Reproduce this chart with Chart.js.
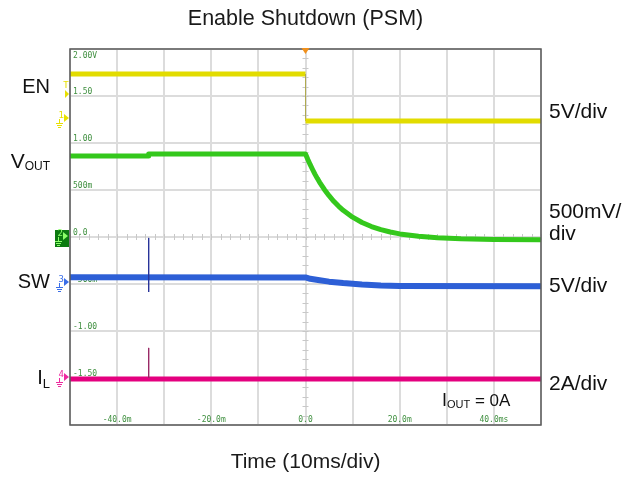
<!DOCTYPE html>
<html>
<head>
<meta charset="utf-8">
<script src="https://cdn.jsdelivr.net/npm/chart.js@4/dist/chart.umd.min.js"></script>
<style>
html, body { margin: 0; padding: 0; background: #fff; }
#wrap { width: 625px; height: 477px; }
</style>
</head>
<body>
<div id="wrap"><canvas id="scope" width="625" height="477"></canvas></div>
<script>
// values: time in ms, level in grid units (0.5 per division)
var enTime = [-50, 0, 0, 50];
var enValues = [1.734, 1.734, 1.234, 1.234];

var voutTime = [-50, -33.3, -33.3, 0, 0.5, 1, 1.5, 2, 2.5, 3, 4, 5, 6, 7, 8, 10, 12, 14, 16, 18, 20, 24, 28, 33, 40, 50];
var voutValues = [0.862, 0.862, 0.883, 0.883, 0.824, 0.769, 0.718, 0.669, 0.624, 0.582, 0.506, 0.439, 0.380, 0.329, 0.284, 0.211, 0.154, 0.111, 0.078, 0.053, 0.033, 0.007, -0.008, -0.019, -0.026, -0.029];

var swTime = [-50, 0, 1, 3, 5, 8, 12, 16, 20, 50];
var swValues = [-0.428, -0.43, -0.445, -0.46, -0.475, -0.49, -0.505, -0.515, -0.52, -0.525];

var ilTime = [-50, 50];
var ilValues = [-1.51, -1.51];

// the two glitches at about -33ms
var spikeTime = [-33.3, -33.3];
var swSpikeValues = [-0.01, -0.585];
var ilSpikeValues = [-1.18, -1.5];

// graticule labels printed by the scope
var yTickValues = [2, 1.5, 1, 0.5, 0, -0.5, -1, -1.5];
var yTickLabels = ['2.00V', '1.50', '1.00', '500m', '0.0', '-500m', '-1.00', '-1.50'];
var xTickValues = [-40, -20, 0, 20, 40];
var xTickLabels = ['-40.0m', '-20.0m', '0.0', '20.0m', '40.0ms'];

var FONT = '"Liberation Sans", Arial, sans-serif';
var MONO = '"DejaVu Sans Mono", monospace';

function toPoints(xs, ys) {
	var pts = [];
	for (var i = 0; i < xs.length; i++) {
		pts.push({x: xs[i], y: ys[i]});
	}
	return pts;
}

// text with a subscript part, returns x after the text
function drawSub(ctx, main, sub, x, y, align, size, subSize, drop) {
	ctx.font = size + 'px ' + FONT;
	var wMain = ctx.measureText(main).width;
	ctx.font = subSize + 'px ' + FONT;
	var wSub = ctx.measureText(sub).width;
	var start = align === 'right' ? x - wMain - wSub : x;
	ctx.textAlign = 'left';
	ctx.textBaseline = 'alphabetic';
	ctx.font = size + 'px ' + FONT;
	ctx.fillText(main, start, y);
	ctx.font = subSize + 'px ' + FONT;
	ctx.fillText(sub, start + wMain, y + drop);
	return start + wMain + wSub;
}

function chanMarker(ctx, label, color, x, y) {
	ctx.fillStyle = color;
	ctx.strokeStyle = color;
	ctx.lineWidth = 1;
	ctx.font = '9px ' + MONO;
	ctx.textAlign = 'right';
	ctx.textBaseline = 'middle';
	ctx.fillText(label, x - 5, y - 2);
	ctx.beginPath();
	ctx.moveTo(x - 5, y - 4);
	ctx.lineTo(x, y);
	ctx.lineTo(x - 5, y + 4);
	ctx.closePath();
	ctx.fill();
	// ground sign
	ctx.beginPath();
	ctx.moveTo(x - 9.5, y + 1); ctx.lineTo(x - 9.5, y + 5);
	ctx.moveTo(x - 13, y + 5.5); ctx.lineTo(x - 6, y + 5.5);
	ctx.moveTo(x - 12, y + 7.5); ctx.lineTo(x - 7, y + 7.5);
	ctx.moveTo(x - 11, y + 9.5); ctx.lineTo(x - 8, y + 9.5);
	ctx.stroke();
}

var scopeDecor = {
	id: 'scopeDecor',
	beforeDatasetsDraw: function(chart) {
		var ctx = chart.ctx, xs = chart.scales.x, ys = chart.scales.y, area = chart.chartArea;
		var x0 = xs.getPixelForValue(0), y0 = ys.getPixelForValue(0);
		ctx.save();
		// minor ticks along the centre lines
		ctx.strokeStyle = '#c8c8c8';
		ctx.lineWidth = 1;
		ctx.beginPath();
		for (var t = -50; t <= 50; t += 2) {
			var px = Math.round(xs.getPixelForValue(t)) + 0.5;
			ctx.moveTo(px, y0 - 3); ctx.lineTo(px, y0 + 3);
		}
		for (var k = -20; k <= 20; k++) {
			var py = Math.round(ys.getPixelForValue(k / 10)) + 0.5;
			ctx.moveTo(x0 - 3, py); ctx.lineTo(x0 + 3, py);
		}
		ctx.stroke();

		// graticule labels
		ctx.fillStyle = '#3f8f3f';
		ctx.font = '8px ' + MONO;
		ctx.textAlign = 'left';
		for (var i = 0; i < yTickValues.length; i++) {
			var ly = ys.getPixelForValue(yTickValues[i]);
			if (i === 0) {
				ctx.textBaseline = 'top';
				ctx.fillText(yTickLabels[i], area.left + 3, ly + 3);
			} else {
				ctx.textBaseline = 'alphabetic';
				ctx.fillText(yTickLabels[i], area.left + 3, ly - 2);
			}
		}
		ctx.textAlign = 'center';
		ctx.textBaseline = 'alphabetic';
		for (var j = 0; j < xTickValues.length; j++) {
			ctx.fillText(xTickLabels[j], xs.getPixelForValue(xTickValues[j]), area.bottom - 3);
		}
		ctx.restore();
	},
	afterDraw: function(chart) {
		var ctx = chart.ctx, xs = chart.scales.x, ys = chart.scales.y, area = chart.chartArea;
		ctx.save();
		// frame
		ctx.strokeStyle = '#5a5a5a';
		ctx.lineWidth = 1.5;
		ctx.strokeRect(area.left, area.top, area.right - area.left, area.bottom - area.top);

		// trigger position marker
		var tx = xs.getPixelForValue(0);
		ctx.fillStyle = '#f0901c';
		ctx.beginPath();
		ctx.moveTo(tx - 4, area.top - 1);
		ctx.lineTo(tx + 4, area.top - 1);
		ctx.lineTo(tx, area.top + 5);
		ctx.closePath();
		ctx.fill();

		// channel markers on the left edge
		ctx.fillStyle = '#e8e000';
		ctx.font = '9px ' + MONO;
		ctx.textAlign = 'center';
		ctx.textBaseline = 'middle';
		ctx.fillText('T', 66, 86);
		ctx.beginPath();
		ctx.moveTo(65, 90); ctx.lineTo(69, 94); ctx.lineTo(65, 98); ctx.closePath(); ctx.fill();
		chanMarker(ctx, '1', '#e8e000', 69, 118);
		ctx.fillStyle = '#0c7a10';
		ctx.fillRect(55, 230, 14, 17);
		chanMarker(ctx, '2', '#8cff6a', 68, 236);
		chanMarker(ctx, '3', '#3a6ee8', 69, 282);
		chanMarker(ctx, '4', '#ee2aa0', 69, 377);

		// trace names
		ctx.fillStyle = '#111';
		ctx.font = '20px ' + FONT;
		ctx.textAlign = 'right';
		ctx.textBaseline = 'alphabetic';
		ctx.fillText('EN', 50, 93);
		ctx.fillText('SW', 50, 288);
		drawSub(ctx, 'V', 'OUT', 50, 168, 'right', 21, 12, 2);
		drawSub(ctx, 'I', 'L', 50, 384, 'right', 20, 13, 4);

		// scale per trace
		ctx.font = '21px ' + FONT;
		ctx.textAlign = 'left';
		ctx.fillText('5V/div', 549, 118);
		ctx.fillText('500mV/', 549, 218);
		ctx.fillText('div', 549, 240);
		ctx.fillText('5V/div', 549, 292);
		ctx.fillText('2A/div', 549, 390);

		// load condition
		var after = drawSub(ctx, 'I', 'OUT', 442, 406, 'left', 18, 11, 2);
		ctx.font = '17px ' + FONT;
		ctx.fillText(' = 0A', after, 406);
		ctx.restore();
	}
};

var ctx = document.getElementById('scope');

var myScope = new Chart(ctx, {
	type: 'line',
	data: {
		datasets: [{
			label: 'SW glitch',
			data: toPoints(spikeTime, swSpikeValues),
			borderColor: '#28349a',
			borderWidth: 1
		}, {
			label: 'IL glitch',
			data: toPoints(spikeTime, ilSpikeValues),
			borderColor: '#9a2a66',
			borderWidth: 1
		}, {
			label: 'EN',
			data: toPoints(enTime, enValues),
			borderColor: '#e2dc00',
			borderWidth: 5,
			segment: {
				borderWidth: function(c) { return c.p0.parsed.x === c.p1.parsed.x ? 1 : 5; },
				borderColor: function(c) { return c.p0.parsed.x === c.p1.parsed.x ? '#b0aa50' : '#e2dc00'; }
			}
		}, {
			label: 'VOUT',
			data: toPoints(voutTime, voutValues),
			borderColor: '#34c81c',
			borderWidth: 5
		}, {
			label: 'SW',
			data: toPoints(swTime, swValues),
			borderColor: '#2d5fd6',
			borderWidth: 6
		}, {
			label: 'IL',
			data: toPoints(ilTime, ilValues),
			borderColor: '#e4007f',
			borderWidth: 5
		}]
	},
	options: {
		responsive: false,
		animation: false,
		devicePixelRatio: 1,
		elements: {
			point: { radius: 0 },
			line: { tension: 0, borderJoinStyle: 'round', borderCapStyle: 'butt' }
		},
		layout: {
			padding: { left: 70, right: 84, top: 0, bottom: 0 }
		},
		plugins: {
			legend: { display: false },
			tooltip: { enabled: false },
			title: {
				display: true,
				text: 'Enable Shutdown (PSM)',
				color: '#1a1a1a',
				font: { family: FONT, size: 21.5, weight: 'normal' },
				padding: { top: 6, bottom: 17.2 }
			}
		},
		scales: {
			x: {
				type: 'linear',
				min: -50,
				max: 50,
				ticks: { stepSize: 10, display: false },
				grid: { color: '#dcdcdc', lineWidth: 2, drawTicks: false },
				border: { display: false },
				title: {
					display: true,
					text: 'Time (10ms/div)',
					color: '#1a1a1a',
					font: { family: FONT, size: 21 },
					padding: { top: 24.8, bottom: 2 }
				}
			},
			y: {
				type: 'linear',
				min: -2,
				max: 2,
				ticks: { stepSize: 0.5, display: false },
				grid: { color: '#dcdcdc', lineWidth: 2, drawTicks: false },
				border: { display: false }
			}
		}
	},
	plugins: [scopeDecor]
});
</script>
</body>
</html>
